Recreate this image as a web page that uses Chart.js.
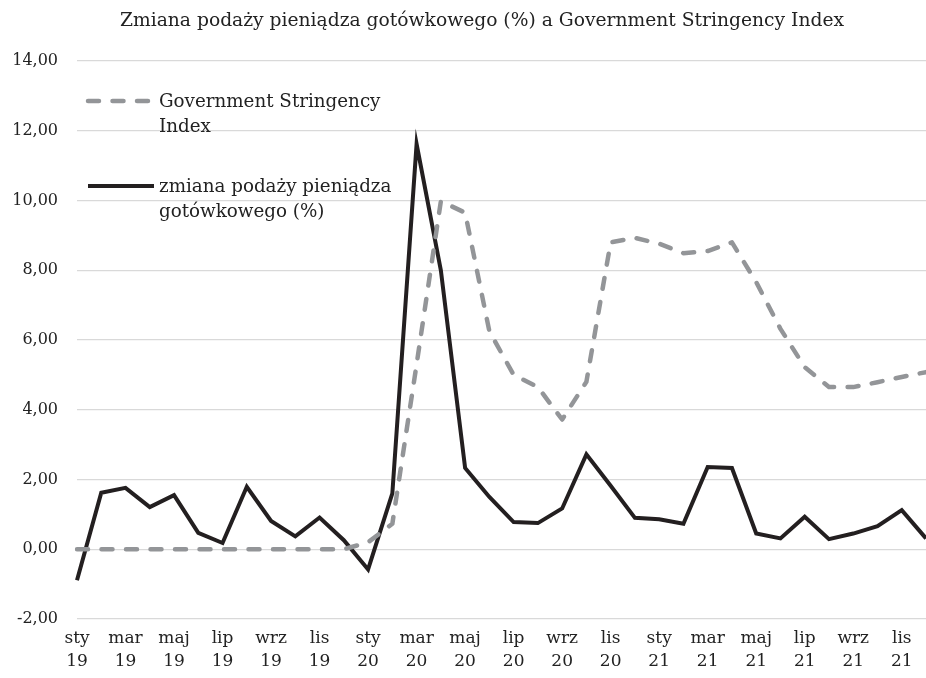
<!DOCTYPE html>
<html>
<head>
<meta charset="utf-8">
<script src="https://cdn.jsdelivr.net/npm/chart.js@4"></script>
<style>
  html, body { margin: 0; padding: 0; background: #ffffff; }
  #wrap { width: 926px; height: 678px; position: relative; }
</style>
</head>
<body>
<div id="wrap"><canvas id="c" width="926" height="678"></canvas></div>
<script>
// Months Jan 2019 – Dec 2021 (Polish abbreviations) and years
const months = ['sty','lut','mar','kwi','maj','cze','lip','sie','wrz','paź','lis','gru',
                'sty','lut','mar','kwi','maj','cze','lip','sie','wrz','paź','lis','gru',
                'sty','lut','mar','kwi','maj','cze','lip','sie','wrz','paź','lis','gru'];
const years = ['19','19','19','19','19','19','19','19','19','19','19','19',
               '20','20','20','20','20','20','20','20','20','20','20','20',
               '21','21','21','21','21','21','21','21','21','21','21','21'];

// Government Stringency Index (scaled)
const stringency = [0, 0, 0, 0, 0, 0, 0, 0, 0, 0, 0, 0,
                    0.2, 0.73, 5.3, 9.98, 9.65, 6.25, 5.0, 4.65, 3.72, 4.8, 8.8, 8.93,
                    8.76, 8.49, 8.55, 8.8, 7.66, 6.32, 5.22, 4.65, 4.65, 4.79, 4.94, 5.08];

// Change in cash money supply (%)
const cashChange = [-0.89, 1.62, 1.76, 1.21, 1.55, 0.47, 0.18, 1.79, 0.81, 0.37, 0.91, 0.26,
                    -0.58, 1.6, 11.62, 8.0, 2.33, 1.5, 0.78, 0.75, 1.17, 2.72, 1.82, 0.9,
                    0.86, 0.73, 2.36, 2.33, 0.45, 0.31, 0.93, 0.29, 0.45, 0.66, 1.12, 0.31];

const seriesNames = [['Government Stringency', 'Index'], ['zmiana podaży pieniądza', 'gotówkowego (%)']];
const titleText = 'Zmiana podaży pieniądza gotówkowego (%) a Government Stringency Index';

const FONT = '"DejaVu Serif", "Liberation Serif", serif';
const GRAY = '#939598';
const BLACK = '#231f20';

// Title and wrapped legend drawn on the canvas
const decorations = {
  id: 'decorations',
  afterDraw(chart) {
    const ctx = chart.ctx;
    ctx.save();
    ctx.fillStyle = '#222222';
    ctx.font = '18.7px ' + FONT;
    ctx.textAlign = 'center';
    ctx.textBaseline = 'middle';
    ctx.fillText(titleText, 482, 21);

    const rows = [{ y: 101, ds: chart.data.datasets[0] }, { y: 186, ds: chart.data.datasets[1] }];
    rows.forEach((r, i) => {
      ctx.beginPath();
      ctx.strokeStyle = r.ds.borderColor;
      ctx.lineWidth = r.ds.borderWidth;
      ctx.lineCap = r.ds.borderCapStyle || 'butt';
      ctx.setLineDash(r.ds.borderDash || []);
      ctx.moveTo(88, r.y);
      ctx.lineTo(154, r.y);
      ctx.stroke();
      ctx.setLineDash([]);
      ctx.fillStyle = '#222222';
      ctx.font = '18.3px ' + FONT;
      ctx.textAlign = 'left';
      ctx.textBaseline = 'middle';
      seriesNames[i].forEach((t, k) => ctx.fillText(t, 159, r.y + 1 + k * 25));
    });
    ctx.restore();
  }
};

new Chart(document.getElementById('c'), {
  type: 'line',
  data: {
    labels: months.map((m, i) => [m, years[i]]),
    datasets: [
      {
        label: seriesNames[0].join(' '),
        data: stringency,
        borderColor: GRAY,
        backgroundColor: GRAY,
        borderWidth: 4.5,
        borderDash: [11, 13.5],
        borderCapStyle: 'round',
        borderJoinStyle: 'round',
        pointRadius: 0,
        tension: 0,
        fill: false
      },
      {
        label: seriesNames[1].join(' '),
        data: cashChange,
        borderColor: BLACK,
        backgroundColor: BLACK,
        borderWidth: 4,
        borderJoinStyle: 'miter',
        pointRadius: 0,
        tension: 0,
        fill: false
      }
    ]
  },
  options: {
    responsive: false,
    animation: false,
    layout: { padding: { top: 61, right: 0, left: 0, bottom: 0 } },
    plugins: {
      legend: { display: false },
      title: { display: false },
      tooltip: { enabled: false }
    },
    scales: {
      x: {
        type: 'category',
        offset: false,
        grid: { display: false, drawTicks: false },
        border: { display: false },
        afterFit(scale) {
          scale.height = 59;
          scale.paddingLeft = 0;
          scale.paddingRight = 0;
        },
        ticks: {
          autoSkip: false,
          maxRotation: 0,
          minRotation: 0,
          padding: 9,
          color: '#222222',
          font: { family: FONT, size: 17, lineHeight: 1.3 },
          callback(value, index) {
            return index % 2 === 0 ? [months[index], years[index]] : '';
          }
        }
      },
      y: {
        min: -2,
        max: 14,
        grid: { color: '#d9d9d9', lineWidth: 1.3, drawTicks: false },
        border: { display: false },
        afterFit(scale) { scale.width = 77; },
        ticks: {
          stepSize: 2,
          padding: 19,
          color: '#222222',
          font: { family: FONT, size: 16 },
          callback(v) { return v.toFixed(2).replace('.', ','); }
        }
      }
    }
  },
  plugins: [decorations]
});
</script>
</body>
</html>
